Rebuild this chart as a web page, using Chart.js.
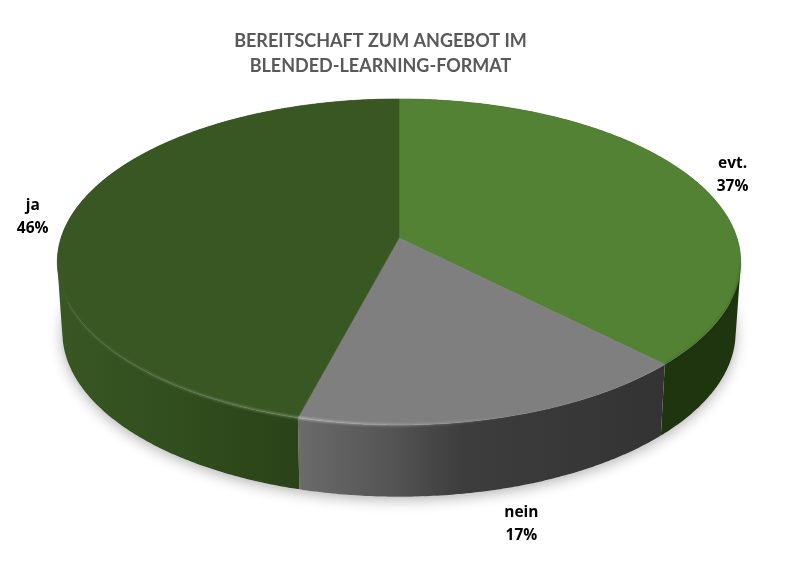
<!DOCTYPE html>
<html><head><meta charset="utf-8">
<style>html,body{margin:0;padding:0;background:#fff}canvas{display:block}</style>
<script src="https://cdn.jsdelivr.net/npm/chart.js@4"></script>
</head><body><canvas id="c" width="791" height="576"></canvas>
<script>
const titleLines = ['BEREITSCHAFT ZUM ANGEBOT IM', 'BLENDED-LEARNING-FORMAT'];
const categories = ['evt.', 'nein', 'ja'];
const shares = [37, 17, 46];
const topColors = ['#548235', '#7f7f7f', '#385723'];

// perspective view of the disc (view settings, not data)
const view = {cx: 399, k: 0.147, warp: 0.03, warp2: 0.008,
  top: {cy: 238, a: 338, b: 159.5},
  base: {cy: 308, a: 333, b: 161}};
const labelNudge = [[1, -2], [10, 0], [3, -3]];
const sideStops = [
  [[0, '#1f3510'], [1, '#1f3510']],
  [[0, '#6b6b6b'], [0.25, '#555555'], [0.45, '#3d3d3d'], [1, '#333333']],
  [[0, '#385723'], [0.5, '#314e1e'], [1, '#2a4218']]
];
const rimStops = [
  [[0, 'rgba(0,0,0,.12)'], [1, 'rgba(0,0,0,.12)']],
  [[0, 'rgba(255,255,255,.38)'], [0.3, 'rgba(255,255,255,.22)'], [0.6, 'rgba(255,255,255,0)'], [1, 'rgba(255,255,255,0)']],
  [[0, 'rgba(255,255,255,.03)'], [0.45, 'rgba(255,255,255,.16)'], [1, 'rgba(255,255,255,.28)']]
];

function proj(plane, angle, f) {
  const r = f === undefined ? 1 : f;
  const t = angle + view.warp * Math.sin(angle) + view.warp2 * (1 - Math.cos(angle));
  const x = Math.sin(t) * r, y = -Math.cos(t) * r;
  const w = 1 - view.k * y;
  return [view.cx + plane.a * x / w, plane.cy + plane.b * y / w];
}
function arcPts(plane, s, e) {
  const n = Math.max(4, Math.ceil((e - s) / 0.01)), pts = [];
  for (let i = 0; i <= n; i++) pts.push(proj(plane, s + (e - s) * i / n));
  return pts;
}
function trace(ctx, pts, move) {
  pts.forEach((p, i) => (i === 0 && move) ? ctx.moveTo(p[0], p[1]) : ctx.lineTo(p[0], p[1]));
}
function hGrad(ctx, x0, x1, stops) {
  const g = ctx.createLinearGradient(x0, 0, x1, 0);
  stops.forEach(s => g.addColorStop(s[0], s[1]));
  return g;
}
const disc3d = {
  id: 'disc3d',
  beforeDatasetDraw(chart, args) {
    const ctx = chart.ctx;
    const arcs = chart.getDatasetMeta(args.index).data;
    const ang = arcs.map(a => {
      const p = a.getProps(['startAngle', 'endAngle'], true);
      return [p.startAngle + Math.PI / 2, p.endAngle + Math.PI / 2];
    });
    // soft cast shadow
    ctx.save();
    ctx.shadowColor = 'rgba(0,0,0,.3)';
    ctx.shadowBlur = 14;
    ctx.shadowOffsetY = 3;
    ctx.fillStyle = '#fff';
    ctx.beginPath();
    trace(ctx, arcPts(view.base, 0, Math.PI * 2), true);
    ctx.closePath();
    ctx.fill();
    ctx.restore();
    // side walls: one path per slice, every strip wound the same way
    ang.forEach((a, i) => {
      const tp = arcPts(view.top, a[0], a[1]), bt = arcPts(view.base, a[0], a[1]);
      const vis = tp.filter(p => p[1] > 262).map(p => p[0]);
      ctx.fillStyle = hGrad(ctx, Math.min(...vis), Math.max(...vis), sideStops[i]);
      ctx.beginPath();
      for (let j = 0; j < tp.length - 1; j++) {
        let q = [tp[j], tp[j + 1], bt[j + 1], bt[j]];
        let area = 0;
        q.forEach((p, m) => { const n = q[(m + 1) % 4]; area += p[0] * n[1] - n[0] * p[1]; });
        if (area < 0) q = q.reverse();
        trace(ctx, q, true);
        ctx.closePath();
      }
      ctx.fill('nonzero');
    });
    // top faces
    ang.forEach((a, i) => {
      const o = arcs[i].options;
      const c = proj(view.top, 0, 0);
      ctx.beginPath();
      ctx.moveTo(c[0], c[1]);
      trace(ctx, arcPts(view.top, a[0], a[1]), false);
      ctx.closePath();
      ctx.fillStyle = o.backgroundColor;
      ctx.fill();
      ctx.strokeStyle = o.backgroundColor;
      ctx.lineWidth = 0.6;
      ctx.stroke();
    });
    // bevel along the front rim
    ctx.save();
    ctx.filter = 'blur(0.8px)';
    ang.forEach((a, i) => {
      const tp = arcPts(view.top, a[0], a[1]).filter(p => p[1] > 262);
      if (!tp.length) return;
      const xs = tp.map(p => p[0]);
      ctx.beginPath();
      trace(ctx, tp, true);
      ctx.strokeStyle = hGrad(ctx, Math.min(...xs), Math.max(...xs), rimStops[i]);
      ctx.lineWidth = 2.4;
      ctx.stroke();
    });
    ctx.restore();
    return false;
  },
  afterDraw(chart) {
    const ctx = chart.ctx;
    const arcs = chart.getDatasetMeta(0).data;
    const total = shares.reduce((s, v) => s + v, 0);
    ctx.save();
    ctx.font = 'bold 15.5px "Open Sans"';
    ctx.fillStyle = '#000';
    ctx.textAlign = 'center';
    ctx.textBaseline = 'middle';
    arcs.forEach((arc, i) => {
      const p = arc.getProps(['startAngle', 'endAngle'], true);
      const t = (p.startAngle + p.endAngle) / 2 + Math.PI / 2;
      const q = proj(view.top, t);
      const front = q[1] > 330;
      const x = view.cx + (q[0] - view.cx) * 1.115 + labelNudge[i][0];
      const y = view.top.cy + (q[1] - view.top.cy) * 1.1 + (front ? 88 : 0) + labelNudge[i][1];
      ctx.fillText(categories[i], x, y - 11.5);
      ctx.fillText(Math.round(shares[i] / total * 100) + '%', x, y + 11.5);
    });
    ctx.restore();
  }
};
new Chart(document.getElementById('c'), {
  type: 'pie',
  data: {labels: categories, datasets: [{data: shares, backgroundColor: topColors, borderWidth: 0}]},
  options: {
    responsive: false,
    animation: false,
    layout: {padding: {right: 30}},
    plugins: {
      legend: {display: false},
      tooltip: {enabled: false},
      title: {display: true, text: titleLines, color: '#595959',
        font: {family: 'Lato', size: 18, weight: 'bold', lineHeight: 1.39},
        padding: {top: 29, bottom: 10}}
    }
  },
  plugins: [disc3d]
});
</script></body></html>
